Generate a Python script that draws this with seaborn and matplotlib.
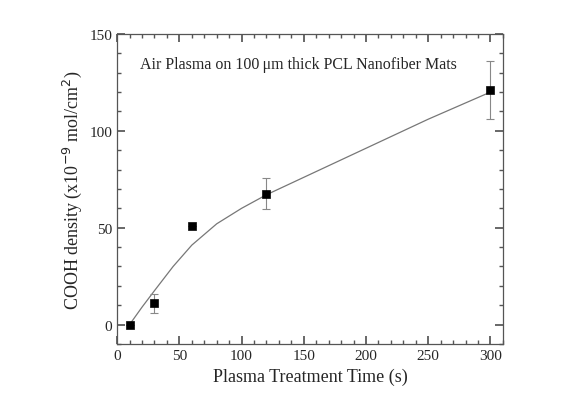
import matplotlib
matplotlib.use("Agg")
import matplotlib.pyplot as plt
import seaborn as sns
import numpy as np
from matplotlib.ticker import MultipleLocator

time_s = [10, 30, 60, 120, 300]
cooh = [0, 11, 51, 67.5, 121]
cooh_err = [0, 5, 0, 8, 15]

fit_time = [10, 20, 30, 45, 60, 80, 100, 120, 150, 200, 250, 300]
fit_cooh = [0, 9, 17.5, 30, 41, 52, 60, 67, 76, 91, 106, 120]

sns.set_theme(style="ticks")
plt.rcParams['font.family'] = ['Liberation Serif', 'DejaVu Serif']

fig = plt.figure(figsize=(5.8, 4.02), dpi=100)
ax = fig.add_axes([0.202, 0.142, 0.665, 0.771])

sns.lineplot(x=fit_time, y=fit_cooh, ax=ax, color="#777777", linewidth=0.9, estimator=None)
ax.errorbar(time_s, cooh, yerr=cooh_err, fmt="none", ecolor="#888888",
            elinewidth=0.8, capsize=3, capthick=0.8)
sns.scatterplot(x=time_s, y=cooh, ax=ax, marker="s", color="black", s=36,
                edgecolor="black", zorder=5)

ax.set_xlim(0, 310)
ax.set_ylim(-10, 150)
ax.xaxis.set_major_locator(MultipleLocator(50))
ax.xaxis.set_minor_locator(MultipleLocator(10))
ax.yaxis.set_major_locator(MultipleLocator(50))
ax.yaxis.set_minor_locator(MultipleLocator(10))
ax.tick_params(which="both", direction="in", top=True, right=True, labelsize=11, color="#555555")
ax.tick_params(which="major", length=6)
ax.tick_params(which="minor", length=3)
for s in ax.spines.values():
    s.set_color("#555555")
    s.set_linewidth(0.9)

ax.set_xlabel("Plasma Treatment Time (s)", fontsize=13)
ax.set_ylabel("COOH density (x10$^{-9}$ mol/cm$^{2}$)", fontsize=13)
ax.text(0.06, 0.89, "Air Plasma on 100\u2009\u03bcm thick PCL Nanofiber Mats",
        transform=ax.transAxes, fontsize=11.5)

fig.savefig("out.png", dpi=100)
